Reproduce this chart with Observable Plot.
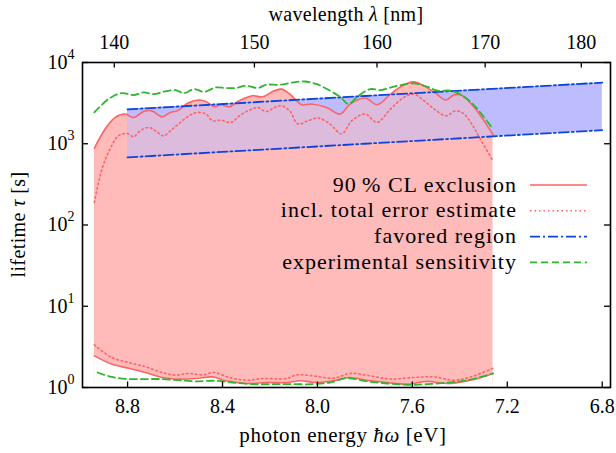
<!DOCTYPE html>
<html><head><meta charset="utf-8">
<script src="https://cdn.jsdelivr.net/npm/d3@7"></script>
<script src="https://cdn.jsdelivr.net/npm/@observablehq/plot@0.6"></script>
<style>
html,body{margin:0;padding:0;background:#fff;}
#chart{width:616px;height:453px;}
#chart svg, #chart svg text{font-family:"Liberation Serif","Times New Roman",serif !important;}
</style></head><body><div id="chart"></div>
<script>
// ---------- data (photon energy in eV, lifetime in s) ----------
const excl90UpperE   = [8.94, 8.895, 8.853, 8.81, 8.775, 8.732, 8.697, 8.655, 8.62, 8.591, 8.541, 8.499, 8.47, 8.435, 8.407, 8.372, 8.329, 8.273, 8.23, 8.188, 8.152, 8.117, 8.067, 8.025, 7.961, 7.904, 7.862, 7.798, 7.749, 7.692, 7.643, 7.596, 7.551, 7.501, 7.459, 7.423, 7.388, 7.345, 7.303, 7.26];
const excl90UpperTau = [880, 1510, 2100, 2320, 2100, 2490, 2540, 2150, 2430, 2540, 3220, 3450, 3310, 2870, 3020, 2850, 3380, 3890, 3780, 4400, 4700, 4100, 3020, 3080, 2790, 2320, 3080, 3650, 3020, 4080, 5160, 5780, 5160, 4160, 3450, 4000, 3890, 2930, 2010, 1290];

const excl90LowerE   = [8.94, 8.867, 8.796, 8.725, 8.655, 8.584, 8.513, 8.442, 8.386, 8.301, 8.216, 8.13, 8.074, 8.003, 7.933, 7.869, 7.791, 7.706, 7.621, 7.537, 7.451, 7.366, 7.31, 7.26];
const excl90LowerTau = [2.45, 1.94, 1.73, 1.53, 1.33, 1.27, 1.29, 1.35, 1.21, 1.12, 1.15, 1.15, 1.21, 1.15, 1.21, 1.33, 1.23, 1.15, 1.10, 1.19, 1.12, 1.21, 1.33, 1.49];

const totUpperE   = [8.94, 8.907, 8.874, 8.839, 8.803, 8.775, 8.747, 8.711, 8.683, 8.648, 8.62, 8.585, 8.541, 8.506, 8.47, 8.442, 8.407, 8.364, 8.329, 8.287, 8.251, 8.216, 8.18, 8.152, 8.117, 8.082, 8.04, 7.997, 7.947, 7.898, 7.855, 7.798, 7.749, 7.692, 7.636, 7.593, 7.551, 7.508, 7.459, 7.417, 7.382, 7.345, 7.31, 7.26];
const totUpperTau = [190, 500, 860, 1250, 1340, 1220, 1440, 1590, 1440, 1250, 1440, 1750, 2210, 2430, 2320, 1920, 1950, 1830, 2210, 2590, 2790, 2490, 2790, 2930, 2540, 1750, 1920, 2070, 1750, 1320, 1920, 2320, 1830, 2670, 3710, 4080, 3380, 2670, 2210, 2540, 2320, 1660, 1090, 617];

const totLowerE   = [8.94, 8.867, 8.796, 8.725, 8.655, 8.599, 8.541, 8.485, 8.435, 8.372, 8.301, 8.23, 8.13, 8.088, 8.018, 7.933, 7.862, 7.777, 7.692, 7.593, 7.508, 7.423, 7.353, 7.26];
const totLowerTau = [3.35, 2.34, 2.03, 1.80, 1.53, 1.42, 1.49, 1.43, 1.53, 1.33, 1.23, 1.29, 1.29, 1.43, 1.39, 1.30, 1.49, 1.39, 1.27, 1.33, 1.35, 1.23, 1.35, 1.73];

const sensUpperE   = [8.94, 8.881, 8.825, 8.775, 8.732, 8.69, 8.643, 8.598, 8.563, 8.52, 8.478, 8.429, 8.386, 8.344, 8.301, 8.251, 8.216, 8.159, 8.103, 8.053, 8.003, 7.947, 7.904, 7.869, 7.827, 7.777, 7.735, 7.692, 7.643, 7.593, 7.537, 7.494, 7.437, 7.388, 7.345, 7.303, 7.26];
const sensUpperTau = [2430, 3540, 4200, 3970, 4280, 4080, 4400, 4570, 4200, 4700, 4360, 4920, 4850, 4850, 5160, 4850, 5320, 5320, 5680, 5840, 5420, 4490, 3780, 3080, 3890, 4700, 4570, 4920, 5320, 5520, 5020, 4490, 4490, 3890, 3080, 2210, 1510];

const sensLowerE   = [8.926, 8.867, 8.796, 8.725, 8.655, 8.584, 8.513, 8.429, 8.358, 8.273, 8.188, 8.117, 8.018, 7.947, 7.876, 7.791, 7.706, 7.621, 7.537, 7.451, 7.366, 7.26];
const sensLowerTau = [1.53, 1.35, 1.27, 1.27, 1.27, 1.23, 1.19, 1.21, 1.15, 1.10, 1.10, 1.10, 1.10, 1.15, 1.30, 1.19, 1.12, 1.08, 1.10, 1.15, 1.23, 1.49];

// favored region band (lifetime bounds)
const bandE     = [8.8, 7.8, 6.8];
const bandUpper = [2650, 3870, 5650];
const bandLower = [680, 1000, 1470];

// axes
const xTicks        = [8.8, 8.4, 8.0, 7.6, 7.2, 6.8];
const xTickLabels   = ["8.8", "8.4", "8.0", "7.6", "7.2", "6.8"];
const lambdaTicks   = [140, 150, 160, 170, 180];           // nm
const lambdaLabels  = ["140", "150", "160", "170", "180"];
const yTicks        = [1, 10, 100, 1000, 10000];
const yExponents    = ["0", "1", "2", "3", "4"];
const HC = 1239.84;  // eV·nm, converts wavelength to photon energy

const legendLabels = ["90\u2009% CL exclusion", "incl. total error estimate", "favored region", "experimental sensitivity"];

// ---------- layout ----------
const W = 616, H = 453, mL = 82, mR = 6, mT = 62, mB = 66;
const innerW = W - mL - mR, innerH = H - mT - mB;
const FONT = "Liberation Serif, Times New Roman, serif";

const RED = "#ff6262", BLUE = "#0b45dc", GREEN = "#2fb62f";
const RED_FILL = "#ffbaba", BLUE_FILL = "#bcbcff";

const rows = (E, T) => E.map((e, i) => ({e, t: T[i]}));
const band = bandE.map((e, i) => ({e, lo: bandLower[i], hi: bandUpper[i]}));
const curve = "catmull-rom";

const plot = Plot.plot({
  width: W, height: H,
  marginLeft: mL, marginRight: mR, marginTop: mT, marginBottom: mB,
  x: {domain: [8.99, 6.765], axis: null},
  y: {type: "log", domain: [1, 1e4], axis: null},
  style: {fontFamily: FONT, background: "white", color: "black"},
  marks: [
    // fills
    Plot.areaY(band, {x: "e", y1: "lo", y2: "hi", fill: BLUE_FILL}),
    Plot.areaY(rows(excl90UpperE, excl90UpperTau), {x: "e", y1: () => 1, y2: "t", fill: RED_FILL, curve}),
    Plot.areaY(rows(excl90LowerE, excl90LowerTau), {x: "e", y1: () => 1, y2: "t", fill: "white", curve}),
    Plot.areaY(band, {x: "e", y1: "lo", y2: "hi", fill: BLUE_FILL, fillOpacity: 0.5}),
    // red curves
    Plot.line(rows(excl90UpperE, excl90UpperTau), {x: "e", y: "t", stroke: RED, strokeWidth: 1.6, curve}),
    Plot.line(rows(excl90LowerE, excl90LowerTau), {x: "e", y: "t", stroke: RED, strokeWidth: 1.6, curve}),
    Plot.line(rows(totUpperE, totUpperTau), {x: "e", y: "t", stroke: RED, strokeWidth: 1.6, strokeDasharray: "1.5,3", curve}),
    Plot.line(rows(totLowerE, totLowerTau), {x: "e", y: "t", stroke: RED, strokeWidth: 1.6, strokeDasharray: "1.5,3", curve}),
    // favored band edges
    Plot.line(band, {x: "e", y: "hi", stroke: BLUE, strokeWidth: 1.8, strokeDasharray: "10,3,2,3"}),
    Plot.line(band, {x: "e", y: "lo", stroke: BLUE, strokeWidth: 1.8, strokeDasharray: "10,3,2,3"}),
    // sensitivity
    Plot.line(rows(sensUpperE, sensUpperTau), {x: "e", y: "t", stroke: GREEN, strokeWidth: 1.8, strokeDasharray: "7,4", curve}),
    Plot.line(rows(sensLowerE, sensLowerTau), {x: "e", y: "t", stroke: GREEN, strokeWidth: 1.8, strokeDasharray: "7,4", curve}),
    // inward ticks
    Plot.ruleX(xTicks, {x: d => d, insetTop: innerH - 5.5, stroke: "black", strokeWidth: 1.3}),
    Plot.ruleX(lambdaTicks, {x: l => HC / l, insetBottom: innerH - 5.5, stroke: "black", strokeWidth: 1.3}),
    Plot.ruleY(yTicks, {y: d => d, insetRight: innerW - 6, stroke: "black", strokeWidth: 1.3}),
    Plot.ruleY(yTicks, {y: d => d, insetLeft: innerW - 6, stroke: "black", strokeWidth: 1.3}),
    Plot.frame({stroke: "black", strokeWidth: 1.6}),
    // tick labels
    Plot.text(xTicks, {x: d => d, text: (d, i) => xTickLabels[i], frameAnchor: "bottom", dy: 19, lineAnchor: "middle", fontSize: 20, fill: "black"}),
    Plot.text(lambdaTicks, {x: l => HC / l, text: (d, i) => lambdaLabels[i], frameAnchor: "top", dy: -20, lineAnchor: "middle", fontSize: 20, fill: "black"}),
    Plot.text(yTicks, {y: d => d, text: () => "10", frameAnchor: "left", textAnchor: "end", dx: -15, lineAnchor: "middle", fontSize: 20, fill: "black"}),
    Plot.text(yTicks, {y: d => d, text: (d, i) => yExponents[i], frameAnchor: "left", textAnchor: "start", dx: -15, dy: -8, lineAnchor: "middle", fontSize: 14, fill: "black"})
  ]
});

const svg = d3.select(plot);

// axis titles (with italic math symbols)
function richText(g, parts) {
  parts.forEach(([s, it]) => g.append("tspan").attr("font-style", it ? "italic" : null).text(s));
}
const tTop = svg.append("text").attr("x", mL + innerW / 2).attr("y", 21)
  .attr("text-anchor", "middle").attr("font-size", 20).attr("letter-spacing", 0.3);
richText(tTop, [["wavelength ", false], ["\u03bb", true], [" [nm]", false]]);

const tBot = svg.append("text").attr("x", mL + innerW / 2 - 3).attr("y", 442)
  .attr("text-anchor", "middle").attr("font-size", 21).attr("letter-spacing", 0.6);
richText(tBot, [["photon energy ", false], ["\u0127\u03c9", true], [" [eV]", false]]);

const tLeft = svg.append("text").attr("transform", `translate(25,${mT + innerH / 2}) rotate(-90)`)
  .attr("text-anchor", "middle").attr("font-size", 20).attr("letter-spacing", 0.4);
richText(tLeft, [["lifetime ", false], ["\u03c4", true], [" [s]", false]]);

// legend
const legendStyles = [
  {stroke: RED, dash: null, w: 1.6},
  {stroke: RED, dash: "1.5,3", w: 1.6},
  {stroke: BLUE, dash: "10,3,2,3", w: 1.8},
  {stroke: GREEN, dash: "7,4", w: 1.8}
];
const lg = svg.append("g").attr("font-size", 22).attr("letter-spacing", 1);
legendLabels.forEach((lab, i) => {
  const y = 185 + i * 25.8;
  lg.append("text").attr("x", 517).attr("y", y + 6.5).attr("text-anchor", "end").attr("fill", "black").text(lab);
  lg.append("line").attr("x1", 530).attr("x2", 587).attr("y1", y).attr("y2", y)
    .attr("stroke", legendStyles[i].stroke).attr("stroke-width", legendStyles[i].w)
    .attr("stroke-dasharray", legendStyles[i].dash);
});

document.getElementById("chart").appendChild(plot);
</script></body></html>
